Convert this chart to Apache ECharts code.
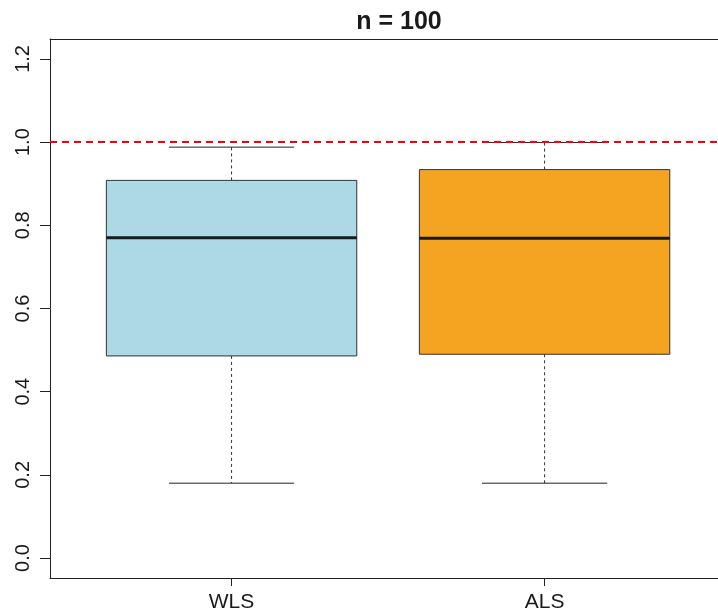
<!DOCTYPE html>
<html>
<head>
<meta charset="utf-8">
<script src="https://cdn.jsdelivr.net/npm/echarts@6/dist/echarts.min.js"></script>
<style>html,body{margin:0;padding:0;background:#fff}#c{width:718px;height:616px}</style>
</head>
<body>
<div id="c"></div>
<script>
const categories = ['WLS', 'ALS'];
const lowerWhisker = [0.180, 0.180];
const q1Values = [0.486, 0.490];
const medians = [0.770, 0.769];
const q3Values = [0.908, 0.934];
const upperWhisker = [0.988, 0.999];
const boxColors = ['#ADD8E6', '#F5A422'];
const yTicks = [0, 0.2, 0.4, 0.6, 0.8, 1.0, 1.2];
const xTicks = [1, 2];
const refValue = 1.0;
const titleText = 'n = 100';

const boxData = categories.map((c, i) => [i + 1, lowerWhisker[i], q1Values[i], medians[i], q3Values[i], upperWhisker[i]]);

const font = '"Liberation Sans", Arial, Helvetica, sans-serif';
const chart = echarts.init(document.getElementById('c'), null, {renderer: 'canvas'});

function renderItem(params, api) {
  const x = api.value(0), lo = api.value(1), q1 = api.value(2), med = api.value(3), q3 = api.value(4), hi = api.value(5);
  const bw = 0.4, cw = 0.2;
  const c = (a, b) => api.coord([a, b]);
  const pTopL = c(x - bw, q3), pBotR = c(x + bw, q1);
  const whiskStyle = {stroke: '#333', lineWidth: 1, lineDash: [3, 3]};
  const solid = {stroke: '#222', lineWidth: 1};
  const mid = c(x, 0)[0];
  return {
    type: 'group',
    children: [
      {type: 'line', shape: {x1: mid, y1: c(x, q3)[1], x2: mid, y2: c(x, hi)[1]}, style: whiskStyle},
      {type: 'line', shape: {x1: mid, y1: c(x, q1)[1], x2: mid, y2: c(x, lo)[1]}, style: whiskStyle},
      {type: 'line', shape: {x1: c(x - cw, hi)[0], y1: c(x, hi)[1], x2: c(x + cw, hi)[0], y2: c(x, hi)[1]}, style: solid},
      {type: 'line', shape: {x1: c(x - cw, lo)[0], y1: c(x, lo)[1], x2: c(x + cw, lo)[0], y2: c(x, lo)[1]}, style: solid},
      {type: 'rect', shape: {x: pTopL[0], y: pTopL[1], width: pBotR[0] - pTopL[0], height: pBotR[1] - pTopL[1]},
        style: {fill: boxColors[params.dataIndex], stroke: '#333', lineWidth: 1}},
      {type: 'line', shape: {x1: pTopL[0], y1: c(x, med)[1], x2: pBotR[0], y2: c(x, med)[1]}, style: {stroke: '#1a1a1a', lineWidth: 3}}
    ]
  };
}

const xMin = 0.42, xMax = 2.554;

chart.setOption({
  animation: false,
  backgroundColor: '#fff',
  title: {
    text: titleText, left: 394, top: 5, textAlign: 'center',
    textStyle: {fontFamily: font, fontSize: 25, fontWeight: 'bold', color: '#1a1a1a'}
  },
  grid: {left: 50, top: 39, right: 0, bottom: 38, show: false},
  xAxis: [{
    type: 'value', min: xMin, max: xMax, position: 'bottom',
    splitLine: {show: false},
    axisLine: {show: true, onZero: false, lineStyle: {color: '#222'}},
    axisTick: {show: true, customValues: xTicks, length: 8, lineStyle: {color: '#222'}},
    axisLabel: {customValues: xTicks, formatter: v => categories[Math.round(v) - 1] || '', margin: 14,
      fontFamily: font, fontSize: 21, color: '#1a1a1a'}
  }, {
    type: 'value', min: xMin, max: xMax, position: 'top',
    splitLine: {show: false},
    axisLine: {show: true, onZero: false, lineStyle: {color: '#222'}},
    axisTick: {show: false}, axisLabel: {show: false}
  }],
  yAxis: {
    type: 'value', min: -0.048, max: 1.248,
    splitLine: {show: false},
    axisLine: {show: true, onZero: false, lineStyle: {color: '#222'}},
    axisTick: {show: true, customValues: yTicks, length: 10, lineStyle: {color: '#222'}},
    axisLabel: {customValues: yTicks, rotate: 90, formatter: v => v.toFixed(1), margin: 17,
      fontFamily: font, fontSize: 20, color: '#1a1a1a'}
  },
  series: [{
    type: 'custom',
    xAxisIndex: 0,
    renderItem: renderItem,
    data: boxData,
    encode: {x: 0, y: [1, 2, 3, 4, 5]},
    markLine: {
      silent: true, symbol: 'none', label: {show: false},
      lineStyle: {color: '#FF0000', width: 2, opacity: 1, type: [7, 5]},
      emphasis: {disabled: true},
      data: [{yAxis: refValue}]
    }
  }]
});
</script>
</body>
</html>
